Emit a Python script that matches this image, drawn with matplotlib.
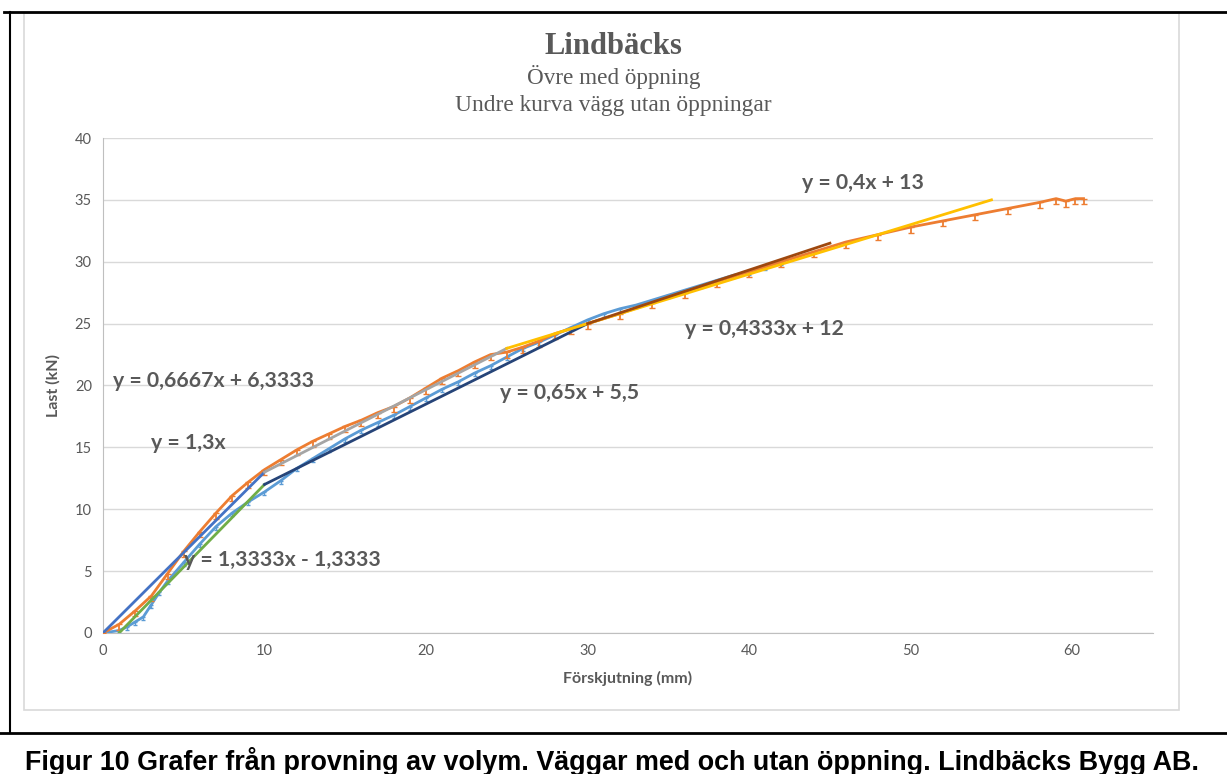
import numpy as np
import matplotlib.pyplot as plt
from matplotlib.lines import Line2D
from matplotlib.patches import Rectangle

# measured curves (mm, kN)
ovre_x = [0, 1, 2, 3, 4, 5, 6, 7, 8, 9, 10, 11, 12, 13, 14, 15, 16, 17, 18, 19, 20,
          21, 22, 23, 24, 25, 26, 27, 28, 29, 30, 32, 34, 36, 38, 40, 42, 44, 46, 48,
          50, 52, 54, 56, 58, 59, 59.6, 60.2, 60.7]
ovre_y = [0, 0.7, 1.8, 3.0, 4.8, 6.6, 8.2, 9.7, 11.1, 12.2, 13.2, 14.0, 14.8, 15.5, 16.1,
          16.7, 17.2, 17.8, 18.3, 19.0, 19.8, 20.6, 21.2, 21.9, 22.5, 22.7, 23.1, 23.6,
          24.2, 24.6, 25.0, 25.8, 26.7, 27.5, 28.4, 29.2, 30.0, 30.8, 31.6, 32.2, 32.8,
          33.3, 33.8, 34.3, 34.8, 35.1, 34.9, 35.1, 35.1]

undre_x = [0, 1, 1.5, 2, 2.5, 3, 3.5, 4, 5, 6, 7, 8, 9, 10, 11, 12, 13, 14, 15, 16, 17,
           18, 19, 20, 21, 22, 23, 24, 25, 26, 27, 28, 29, 30, 31, 32, 33, 34, 35, 36,
           37, 38, 39, 40, 41, 42]
undre_y = [0, 0.2, 0.5, 0.9, 1.3, 2.3, 3.3, 4.2, 5.7, 7.2, 8.6, 9.7, 10.6, 11.4, 12.3,
           13.3, 14.1, 14.9, 15.7, 16.4, 17.0, 17.6, 18.3, 19.0, 19.7, 20.3, 21.0, 21.6,
           22.3, 23.0, 23.5, 24.1, 24.7, 25.3, 25.8, 26.2, 26.5, 26.9, 27.3, 27.7, 28.1,
           28.5, 28.9, 29.2, 29.6, 30.0]

# trend lines: slope, intercept, x start, x end, colour
trend_k = [1.3, 0.6667, 1.3333, 0.65, 0.4, 0.4333]
trend_m = [0, 6.3333, -1.3333, 5.5, 13, 12]
trend_x0 = [0, 10, 1, 10, 25, 30]
trend_x1 = [10, 25, 10, 30, 55, 45]
trend_col = ['#4472C4', '#A5A5A5', '#70AD47', '#264478', '#FFC000', '#9E480E']

labels = ['y = 1,3x', 'y = 0,6667x + 6,3333', 'y = 1,3333x - 1,3333',
          'y = 0,65x + 5,5', 'y = 0,4x + 13', 'y = 0,4333x + 12']
label_pos = [(3.0, 15.35), (0.6, 20.4), (5.0, 5.9), (24.6, 19.4), (43.3, 36.4), (36.0, 24.6)]

grey = '#595959'
fig = plt.figure(figsize=(12.27, 7.74), dpi=100)
ax = fig.add_axes([0.0839, 0.1822, 0.8558, 0.6395])

ax.errorbar(ovre_x, ovre_y, yerr=[[0.45] * len(ovre_x), [0] * len(ovre_x)],
            color='#ED7D31', lw=2, elinewidth=1.3, capsize=2, zorder=4)
ax.errorbar(undre_x, undre_y, yerr=[[0.25] * len(undre_x), [0] * len(undre_x)],
            color='#5B9BD5', lw=2, elinewidth=1.0, capsize=1.5, zorder=3)

for i in range(len(trend_k)):
    xs = np.array([trend_x0[i], trend_x1[i]])
    ax.plot(xs, trend_k[i] * xs + trend_m[i], color=trend_col[i], lw=2, zorder=5)

for i in range(len(labels)):
    ax.text(label_pos[i][0], label_pos[i][1], labels[i], fontsize=15.3, fontweight='bold',
            color=grey, family='Lato', va='center', ha='left', zorder=6)

ax.set_xlim(0, 65)
ax.set_ylim(0, 40)
ax.set_xticks(range(0, 61, 10))
ax.set_yticks(range(0, 41, 5))
ax.grid(axis='y', color='#D9D9D9', lw=1)
ax.set_axisbelow(True)
for s in ['top', 'right']:
    ax.spines[s].set_visible(False)
ax.spines['left'].set_color('#BFBFBF')
ax.spines['bottom'].set_color('#BFBFBF')
ax.tick_params(length=0, labelsize=10.5, labelcolor=grey, pad=8)
for t in ax.get_xticklabels() + ax.get_yticklabels():
    t.set_family('Lato')
ax.set_xlabel('Förskjutning (mm)', fontsize=11.5, fontweight='bold', color=grey, family='Lato', labelpad=9)
ax.set_ylabel('Last (kN)', fontsize=11.5, fontweight='bold', color=grey, family='Lato', labelpad=10)

fig.text(0.5, 1 - 47 / 774, 'Lindbäcks', fontsize=22, fontweight='bold', color=grey,
         family='Liberation Serif', ha='center', va='center')
fig.text(0.5, 1 - 77 / 774, 'Övre med öppning', fontsize=16.7, color=grey,
         family='Liberation Serif', ha='center', va='center')
fig.text(0.5, 1 - 106 / 774, 'Undre kurva vägg utan öppningar', fontsize=16.8, color=grey,
         family='Liberation Serif', ha='center', va='center')

# frame around chart and figure
fig.add_artist(Rectangle((24 / 1227, 1 - 710 / 774), 1155 / 1227, 697 / 774,
                         transform=fig.transFigure, fill=False, ec='#D9D9D9', lw=1.2))
fig.add_artist(Line2D([4 / 1227, 1], [1 - 12 / 774] * 2, color='black', lw=2))
fig.add_artist(Line2D([10 / 1227] * 2, [1 - 12 / 774, 1 - 733 / 774], color='black', lw=1.5))
fig.add_artist(Line2D([0, 1], [1 - 733 / 774] * 2, color='black', lw=2))

fig.text(25 / 1227, 1 - 747 / 774,
         'Figur 10 Grafer från provning av volym. Väggar med och utan öppning. Lindbäcks Bygg AB.',
         fontsize=19.4, fontweight='bold', family='Liberation Sans', ha='left', va='top')

fig.savefig('out.png', dpi=100)
